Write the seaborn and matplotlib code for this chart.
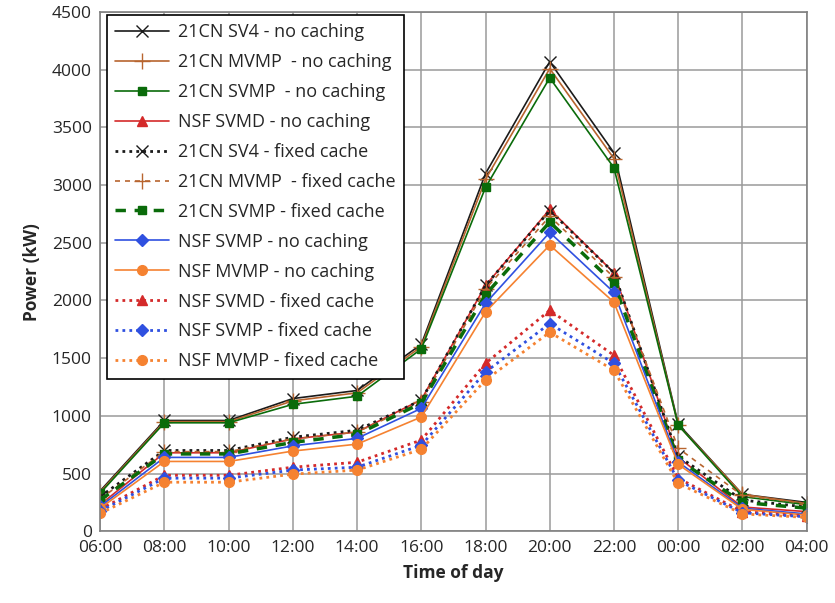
import matplotlib
matplotlib.use("Agg")
import matplotlib.pyplot as plt
import seaborn as sns
import pandas as pd

times = ["06:00", "08:00", "10:00", "12:00", "14:00", "16:00", "18:00",
         "20:00", "22:00", "00:00", "02:00", "04:00"]

sv4_nc = [350, 960, 960, 1150, 1220, 1620, 3100, 4070, 3280, 930, 320, 250]
mvmp_nc = [340, 950, 950, 1130, 1200, 1600, 3050, 4010, 3230, 920, 320, 240]
svmp_nc = [330, 940, 940, 1100, 1170, 1580, 2980, 3930, 3150, 920, 300, 230]
nsf_svmd_nc = [230, 680, 680, 800, 860, 1140, 2130, 2790, 2240, 640, 210, 170]
sv4_fc = [300, 700, 700, 815, 875, 1135, 2130, 2780, 2240, 650, 270, 210]
mvmp_fc = [280, 690, 690, 800, 860, 1120, 2100, 2730, 2200, 720, 310, 240]
svmp_fc = [270, 670, 670, 770, 840, 1110, 2050, 2680, 2150, 620, 250, 200]
nsf_svmp_nc = [215, 640, 640, 740, 805, 1065, 1975, 2590, 2070, 600, 200, 150]
nsf_mvmp_nc = [200, 605, 605, 695, 755, 990, 1900, 2480, 1985, 580, 190, 140]
nsf_svmd_fc = [190, 485, 485, 555, 598, 790, 1455, 1915, 1525, 460, 170, 130]
nsf_svmp_fc = [175, 460, 460, 530, 555, 745, 1380, 1800, 1455, 440, 160, 125]
nsf_mvmp_fc = [155, 425, 425, 495, 530, 710, 1310, 1725, 1395, 415, 150, 120]

labels = ["21CN SV4 - no caching", "21CN MVMP  - no caching", "21CN SVMP  - no caching",
          "NSF SVMD - no caching", "21CN SV4 - fixed cache", "21CN MVMP  - fixed cache",
          "21CN SVMP - fixed cache", "NSF SVMP - no caching", "NSF MVMP - no caching",
          "NSF SVMD - fixed cache", "NSF SVMP - fixed cache", "NSF MVMP - fixed cache"]
series = [sv4_nc, mvmp_nc, svmp_nc, nsf_svmd_nc, sv4_fc, mvmp_fc, svmp_fc,
          nsf_svmp_nc, nsf_mvmp_nc, nsf_svmd_fc, nsf_svmp_fc, nsf_mvmp_fc]

styles = [
    dict(color="#1a1a1a", ls="-", marker="x", ms=9, lw=1.2, mew=1.0),
    dict(color="#b8652f", ls="-", marker="+", ms=11, lw=1.2, mew=1.0),
    dict(color="#0a6b0a", ls="-", marker="s", ms=6, lw=1.2, mew=1.0),
    dict(color="#d42a2a", ls="-", marker="^", ms=7, lw=1.2, mew=1.0),
    dict(color="#1a1a1a", ls=(0, (1, 1.5)), marker="x", ms=9, lw=2.0, mew=1.0),
    dict(color="#b8652f", ls=(0, (3, 3)), marker="+", ms=11, lw=1.2, mew=1.0),
    dict(color="#0a6b0a", ls=(0, (3, 2.5)), marker="s", ms=6, lw=2.5, mew=1.0),
    dict(color="#2f50e0", ls="-", marker="D", ms=6, lw=1.2, mew=1.0),
    dict(color="#f58231", ls="-", marker="o", ms=7, lw=1.2, mew=1.0),
    dict(color="#d42a2a", ls=(0, (1, 1.5)), marker="^", ms=7, lw=2.0, mew=1.0),
    dict(color="#2f50e0", ls=(0, (1, 1.5)), marker="D", ms=6, lw=2.0, mew=1.0),
    dict(color="#f58231", ls=(0, (1, 1.5)), marker="o", ms=7, lw=2.0, mew=1.0),
]

sns.set_style("white")
plt.rcParams["font.family"] = ["Open Sans", "DejaVu Sans"]

fig = plt.figure(figsize=(8.35, 6.03), dpi=100)
ax = fig.add_axes([0.12, 0.119, 0.846, 0.861])

xpos = list(range(len(times)))
for lab, vals, st in zip(labels, series, styles):
    df = pd.DataFrame({"x": xpos, "y": vals})
    sns.lineplot(data=df, x="x", y="y", ax=ax, color=st["color"], linestyle=st["ls"],
                 linewidth=st["lw"], marker=st["marker"], markersize=st["ms"],
                 markeredgewidth=st["mew"], markeredgecolor=st["color"],
                 label=lab, sort=False)

ax.set_xlim(0, len(times) - 1)
ax.set_ylim(0, 4500)
ax.set_xticks(xpos)
ax.set_xticklabels(times)
ax.set_yticks(range(0, 4501, 500))
ax.tick_params(axis="both", labelsize=12.5, length=0, pad=6)
ax.grid(True, color="#9a9a9a", linewidth=1.1)
ax.set_axisbelow(True)
for s in ax.spines.values():
    s.set_color("#808080")
    s.set_linewidth(1.2)
ax.set_xlabel("Time of day", fontsize=12.5, fontweight="bold", labelpad=6)
ax.set_ylabel("Power (kW)", fontsize=12.5, fontweight="bold", labelpad=8)

leg = ax.legend(loc="upper left", bbox_to_anchor=(0.009, 0.994), borderaxespad=0,
                fontsize=13.0, frameon=True, fancybox=False, edgecolor="black",
                framealpha=1, handlelength=3.0, labelspacing=0.66, borderpad=0.45,
                handletextpad=0.5)
leg.get_frame().set_linewidth(1.2)

fig.savefig("out.png", dpi=100)
